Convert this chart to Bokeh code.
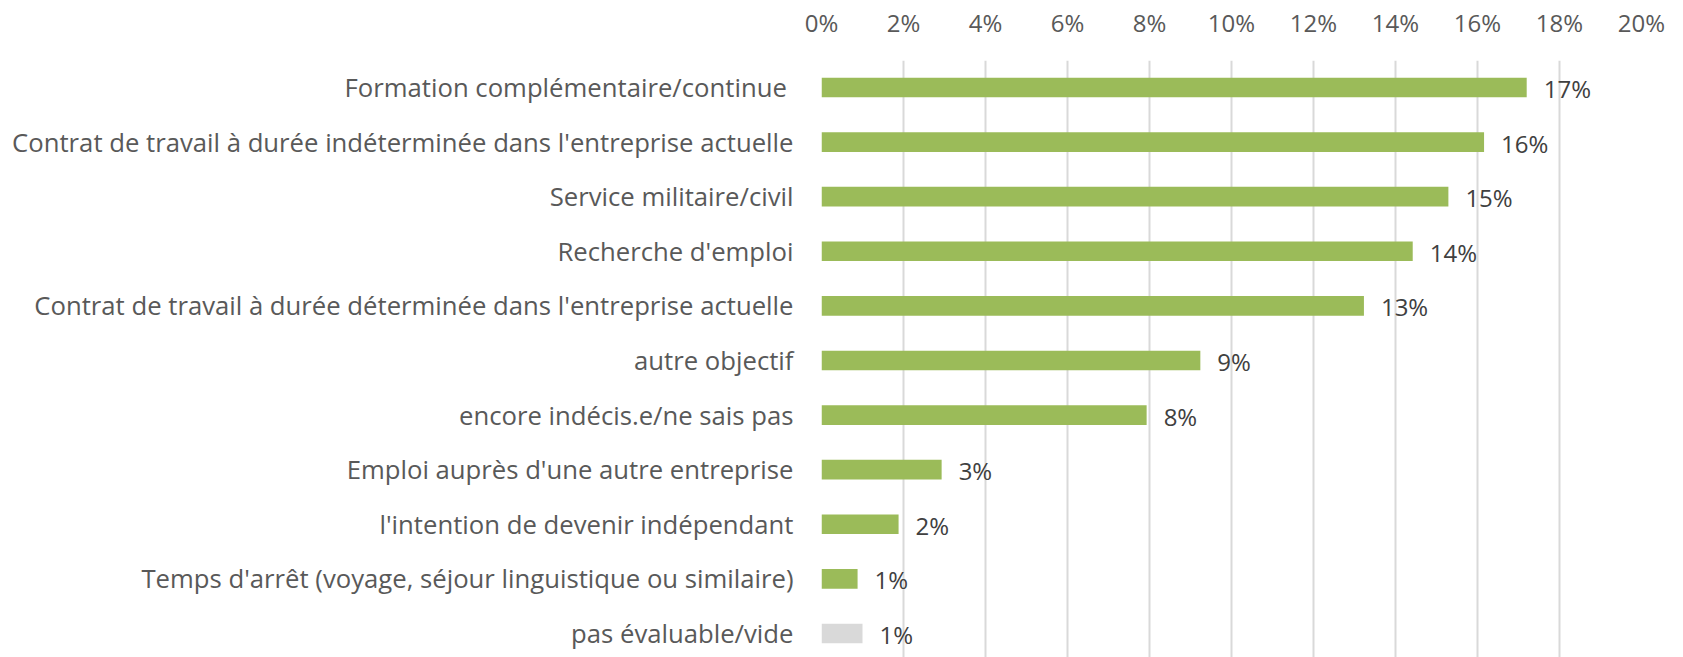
from bokeh.plotting import figure
from bokeh.models import ColumnDataSource, FixedTicker, Range1d, NumeralTickFormatter, LabelSet
from bokeh.core.properties import value
from bokeh.embed import file_html
from bokeh.resources import INLINE

categories = [
    "Formation complémentaire/continue ",
    "Contrat de travail à durée indéterminée dans l'entreprise actuelle",
    "Service militaire/civil",
    "Recherche d'emploi",
    "Contrat de travail à durée déterminée dans l'entreprise actuelle",
    "autre objectif",
    "encore indécis.e/ne sais pas",
    "Emploi auprès d'une autre entreprise",
    "l'intention de devenir indépendant",
    "Temps d'arrêt (voyage, séjour linguistique ou similaire)",
    "pas évaluable/vide",
]
values = [0.172, 0.1616, 0.1529, 0.1442, 0.1323, 0.0924, 0.0793, 0.0293, 0.0188, 0.0088, 0.0100]
labels = ["17%", "16%", "15%", "14%", "13%", "9%", "8%", "3%", "2%", "1%", "1%"]
colors = ["#9BBB59"] * 10 + ["#D9D9D9"]
x_ticks = [0, 0.02, 0.04, 0.06, 0.08, 0.10, 0.12, 0.14, 0.16, 0.18, 0.20]

n = len(categories)
ypos = [n - 1 - i for i in range(n)]

src = ColumnDataSource(dict(y=ypos, v=values, lab=labels, c=colors, cat=categories))

FONT = "Open Sans"
FS = "24px"

p = figure(width=1683, height=657, output_backend="svg", toolbar_location=None,
           x_axis_location="above",
           x_range=Range1d(0, 0.20), y_range=Range1d(-0.44, 10.494),
           min_border_left=821, min_border_right=42, min_border_top=60, min_border_bottom=0)
p.outline_line_color = None
p.background_fill_color = "white"
p.border_fill_color = "white"

p.hbar(y="y", right="v", left=0, height=0.36, color="c", line_color=None, source=src)

p.add_layout(LabelSet(x="v", y="y", text="lab", source=src, x_offset=17, y_offset=-1,
                      text_font=value(FONT), text_font_size=FS, text_color="#404040",
                      text_baseline="middle", text_align="left"))

xa = p.xaxis[0]
xa.ticker = FixedTicker(ticks=x_ticks)
xa.formatter = NumeralTickFormatter(format="0%")
xa.axis_line_color = None
xa.major_tick_line_color = None
xa.minor_tick_line_color = None
xa.major_label_text_font = FONT
xa.major_label_text_font_size = FS
xa.major_label_text_color = "#595959"
xa.major_label_standoff = 16

ya = p.yaxis[0]
ya.ticker = FixedTicker(ticks=ypos)
ya.major_label_overrides = {y: c for y, c in zip(ypos, categories)}
ya.axis_line_color = None
ya.major_tick_line_color = None
ya.minor_tick_line_color = None
ya.major_label_text_font = FONT
ya.major_label_text_font_size = "25.7px"
ya.major_label_text_color = "#595959"
ya.major_label_standoff = 22

p.xgrid.ticker = FixedTicker(ticks=x_ticks)
p.xgrid.grid_line_color = "#D9D9D9"
p.xgrid.grid_line_width = 2
p.ygrid.grid_line_color = None

open("out.html", "w").write(file_html(p, INLINE))
